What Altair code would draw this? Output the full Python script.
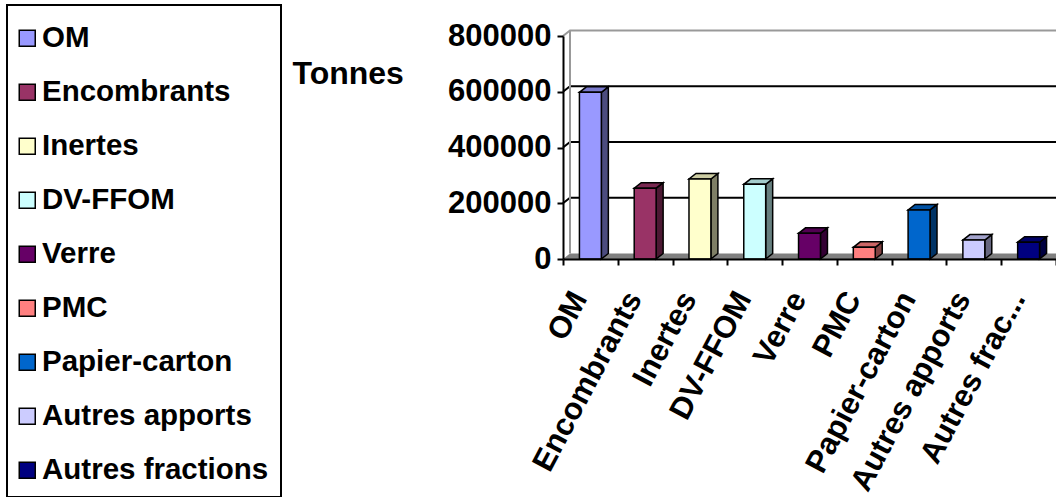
import altair as alt
import pandas as pd

# ---- data ----
categories = ["OM", "Encombrants", "Inertes", "DV-FFOM", "Verre", "PMC",
              "Papier-carton", "Autres apports", "Autres fractions"]
tonnes = [598000, 254000, 287000, 268000, 92000, 42000, 176000, 68000, 60000]
colors = ["#9999FF", "#993366", "#FFFFCC", "#CCFFFF", "#660066", "#FF8080",
          "#0066CC", "#CCCCFF", "#000080"]
y_ticks = [0, 200000, 400000, 600000, 800000]

# ---- layout / style constants ----
W, H = 493, 223
YMAX = 800000
N = len(categories)
DX = 7 * N / W            # 3D depth, horizontal (in category units)
DY = 5.5 * YMAX / H       # 3D depth, vertical (in value units)
BL, BR = 0.3, 0.7         # bar front face within its category slot
FONT = "Liberation Sans"


def shade(hexc, k):
    h = hexc.lstrip("#")
    r, g, b = (int(h[i:i + 2], 16) for i in (0, 2, 4))
    return "#%02x%02x%02x" % (int(r * k), int(g * k), int(b * k))


fronts, sides, tops = [], [], []
for i, (c, v, col) in enumerate(zip(categories, tonnes, colors)):
    fronts.append({"cat": c, "x0": i + BL, "x1": i + BR, "v": v})
    sides += [
        {"bar": c, "x": i + BR, "y": 0, "y2": v, "c": shade(col, 0.5)},
        {"bar": c, "x": i + BR + DX, "y": DY, "y2": v + DY, "c": shade(col, 0.5)},
    ]
    tops += [
        {"bar": c, "x": i + BL, "y": v, "y2": v, "c": shade(col, 0.8)},
        {"bar": c, "x": i + BL + DX, "y": v, "y2": v + DY, "c": shade(col, 0.8)},
        {"bar": c, "x": i + BR, "y": v, "y2": v + DY, "c": shade(col, 0.8)},
        {"bar": c, "x": i + BR + DX, "y": v + DY, "y2": v + DY, "c": shade(col, 0.8)},
    ]

floor = pd.DataFrame([
    {"x": 0, "y": 0, "y2": 0},
    {"x": DX, "y": 0, "y2": DY},
    {"x": N, "y": 0, "y2": DY},
    {"x": N + DX, "y": DY, "y2": DY},
])

grid = []
for t in y_ticks[1:]:
    col = "#999999" if t == YMAX else "black"
    grid += [
        {"lvl": t, "o": 0, "x": 0, "y": t, "c": col},
        {"lvl": t, "o": 1, "x": DX, "y": t + DY, "c": col},
        {"lvl": t, "o": 2, "x": N + DX, "y": t + DY, "c": col},
    ]
backedge = pd.DataFrame([{"x": DX, "y": DY, "y2": YMAX + DY}])

df_front = pd.DataFrame(fronts)
df_side = pd.DataFrame(sides)
df_top = pd.DataFrame(tops)
df_grid = pd.DataFrame(grid)
df_axis = pd.DataFrame({"cat": categories, "v": tonnes})

xq = alt.Scale(domain=[0, N], nice=False, zero=False)
yscale = alt.Scale(domain=[0, YMAX], nice=False)
yaxis = alt.Axis(
    values=y_ticks, format="d", grid=False, title="Tonnes",
    titleAngle=0, titleAlign="left", titleBaseline="alphabetic",
    titleX=-271, titleY=47, titleFont=FONT, titleFontSize=32,
    titleFontWeight="bold", titleColor="black",
    labelFont=FONT, labelFontSize=31, labelFontWeight="bold", labelColor="black",
    labelPadding=6, domainColor="black", domainWidth=2,
    tickColor="black", tickWidth=2, tickSize=6, zindex=1,
)


def Y(f):
    return alt.Y(f, type="quantitative", scale=yscale, axis=yaxis)


def X(f):
    return alt.X(f, type="quantitative", scale=xq, axis=None)


floor_l = alt.Chart(floor).mark_area(color="#808080").encode(
    x=X("x"), y=Y("y"), y2="y2")

grid_l = alt.Chart(df_grid).mark_line(strokeWidth=2).encode(
    x=X("x"), y=Y("y"), detail="lvl:N", order="o:Q",
    stroke=alt.Stroke("c:N", scale=None))

edge_l = alt.Chart(backedge).mark_rule(color="#999999", strokeWidth=2).encode(
    x=X("x"), y=Y("y"), y2="y2")

side_l = alt.Chart(df_side).mark_area(stroke="black", strokeWidth=1.5).encode(
    x=X("x"), y=Y("y"), y2="y2", detail="bar:N",
    fill=alt.Fill("c:N", scale=None))

top_l = alt.Chart(df_top).mark_area(stroke="black", strokeWidth=1.5).encode(
    x=X("x"), y=Y("y"), y2="y2", detail="bar:N",
    fill=alt.Fill("c:N", scale=None))

front_l = alt.Chart(df_front).mark_rect(stroke="black", strokeWidth=1.5).encode(
    x=X("x0"), x2="x1", y=Y("v"), y2=alt.datum(0),
    fill=alt.Fill("cat:N", scale=alt.Scale(domain=categories, range=colors),
                  legend=alt.Legend(orient="none", legendX=-556, legendY=-31,
                                    title=" ")))

axis_l = alt.Chart(df_axis).mark_point(opacity=0).encode(
    x=alt.X("cat:N", sort=categories,
            scale=alt.Scale(paddingInner=0, paddingOuter=0),
            axis=alt.Axis(
                title=None, tickBand="extent", labelAngle=-62,
                labelAlign="right", labelBaseline="alphabetic",
                labelExpr="datum.label == 'Autres fractions' ? 'Autres frac...' : datum.label",
                labelFont=FONT, labelFontSize=31, labelFontWeight="bold",
                labelColor="black", labelPadding=33, labelOffset=-3,
                labelLimit=400,
                domainColor="black", domainWidth=2, tickColor="black",
                tickWidth=2, tickSize=6, zindex=1)),
    y=Y("v"))

chart = alt.layer(
    floor_l, grid_l, edge_l, side_l, top_l, front_l, axis_l
).resolve_scale(
    x="independent", fill="independent"
).properties(
    width=W, height=H,
    autosize=alt.AutoSizeParams(type="none"),
    padding={"left": 563, "top": 36, "right": 0, "bottom": 238},
    background="white",
).configure_view(
    stroke=None
).configure_legend(
    strokeColor="black", strokeWidth=2, padding=12,
    symbolType="square", symbolSize=256, symbolStrokeColor="black",
    symbolStrokeWidth=1.5, symbolOffset=-6.5, labelFont=FONT, labelFontSize=29.5,
    labelFontWeight="bold", labelColor="black", labelOffset=0,
    rowPadding=23, labelLimit=400, titleFontSize=6, titlePadding=0.5,
)

chart.save("out.html", embed_options={"renderer": "svg", "actions": False})
